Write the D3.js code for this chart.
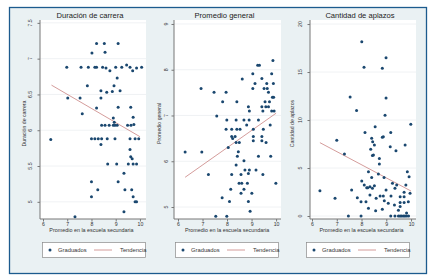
<!DOCTYPE html>
<html>
<head>
<meta charset="utf-8">
<script src="https://cdn.jsdelivr.net/npm/d3@7"></script>
<style>
  body { margin: 0; background: #fff; }
  text { font-family: "Liberation Sans", Arial, sans-serif; }
</style>
</head>
<body>
<script>
// values
var xTicks = [6, 7, 8, 9, 10];
var xTitle = "Promedio en la escuela secundaria";
var legendLabels = ["Graduados", "Tendencia"];

// panel 1: Duración de carrera
var durTitle = "Duración de carrera";
var durTicks = [5, 5.5, 6, 6.5, 7, 7.5];
var durX = [8.21, 8.53, 9.1, 8.02, 8.56,
  6.98, 7.57, 7.87, 8.14, 8.21, 8.46, 8.6, 8.76, 9.0, 9.25, 9.45, 9.59, 9.7, 9.86, 10.07,
  9.06, 7.83, 8.93, 8.39, 8.63, 8.86, 9.18, 7.02, 7.53, 8.39, 8.21, 9.1, 9.62, 7.62,
  8.9, 9.72, 8.94, 8.42, 8.56, 8.73, 8.9, 8.97, 9.06, 9.49, 9.63, 9.75,
  6.32, 8.0, 8.14, 8.28, 8.42, 8.65, 8.97, 9.59, 9.8, 9.95, 8.39, 9.59, 9.62, 9.68,
  8.67, 9.04, 9.52, 9.72, 9.86, 9.34, 8.0, 9.1, 8.26, 9.38, 9.66, 8.0, 9.72, 9.8, 9.86,
  9.34, 7.32];
var durY = [7.21, 7.21, 7.21, 7.08, 7.09,
  6.88, 6.88, 6.88, 6.88, 6.88, 6.88, 6.87, 6.83, 6.88, 6.88, 6.91, 6.88, 6.83, 6.87, 6.88,
  6.73, 6.62, 6.62, 6.55, 6.53, 6.54, 6.55, 6.45, 6.45, 6.45, 6.31, 6.32, 6.32, 6.23,
  6.17, 6.18, 6.11, 6.07, 6.07, 6.07, 6.07, 6.07, 6.07, 6.07, 6.07, 6.08,
  5.87, 5.88, 5.88, 5.88, 5.88, 5.88, 5.88, 5.88, 5.88, 5.88, 5.80, 5.73, 5.63, 5.60,
  5.53, 5.53, 5.53, 5.53, 5.53, 5.40, 5.28, 5.28, 5.17, 5.17, 5.17, 5.07, 5.07, 5.0, 5.0,
  4.86, 4.79];
var durTrendX = [6.35, 10];
var durTrendY = [6.63, 5.91];

// panel 2: Promedio general
var promTitle = "Promedio general";
var promTicks = [5, 6, 7, 8, 9];
var promX = [9.87, 9.25, 9.32, 9.05, 9.82, 8.62, 9.42, 9.14, 9.62, 9.89,
  6.94, 9.05, 9.51, 9.64, 7.47, 7.96, 9.69, 9.85, 9.9, 7.82, 8.4, 9.55, 9.73,
  8.87, 9.42, 9.58, 9.69, 8.91, 9.46, 9.82, 9.92, 7.58, 7.99, 8.37, 8.69, 8.9, 9.28,
  8.8, 9.76, 7.96, 8.19, 8.4, 8.53, 9.07, 9.48, 8.19, 8.33, 9.07, 9.42,
  8.23, 9.07, 9.42, 8.37, 8.5, 9.59, 8.05, 6.29, 6.97, 8.46, 8.42, 9.28, 9.78,
  8.69, 8.37, 8.73, 8.91, 9.18, 7.24, 8.19, 8.57, 8.87, 9.46, 8.49, 8.6, 8.83, 9.99,
  8.15, 8.69, 8.57, 9.01, 7.8, 8.1, 8.87, 8.94, 7.54, 7.99];
var promY = [8.2, 8.1, 8.1, 7.91, 7.91, 7.8, 7.81, 7.7, 7.7, 7.7,
  7.59, 7.59, 7.59, 7.59, 7.51, 7.51, 7.51, 7.4, 7.4, 7.3, 7.3, 7.3, 7.3,
  7.19, 7.19, 7.19, 7.19, 7.1, 7.1, 7.1, 7.1, 6.99, 6.9, 6.9, 6.9, 6.9, 6.9,
  6.79, 6.79, 6.7, 6.7, 6.7, 6.7, 6.7, 6.7, 6.54, 6.54, 6.54, 6.54,
  6.5, 6.45, 6.45, 6.41, 6.41, 6.41, 6.3, 6.2, 6.2, 6.21, 6.11, 6.11, 6.11,
  6.01, 5.92, 5.81, 5.81, 5.81, 5.71, 5.71, 5.71, 5.73, 5.71, 5.52, 5.52, 5.52, 5.52,
  5.39, 5.39, 5.3, 5.3, 5.2, 5.12, 5.12, 4.91, 4.8, 4.8];
var promTrendX = [6.29, 10];
var promTrendY = [5.65, 7.05];

// panel 3: Cantidad de aplazos
var aplTitle = "Cantidad de aplazos";
var aplTicks = [0, 5, 10, 15, 20];
var aplX = [8.01, 8.99, 8.1, 8.84, 7.54, 8.99, 7.8, 8.95, 9.99, 8.55, 8.14, 9.18,
  8.88, 8.84, 8.41, 7.0, 8.45, 8.52, 9.16, 9.76, 8.37, 9.39, 7.31, 8.48, 8.44,
  8.72, 8.72, 8.28, 8.68, 9.85, 9.92, 8.41, 8.91, 9.25, 9.42, 9.79, 8.01, 8.11,
  8.34, 8.21, 8.25, 8.44, 8.52, 6.32, 7.6, 8.99, 9.35, 9.72, 9.96, 8.34, 8.75, 8.88,
  9.19, 9.56, 9.72, 6.93, 7.83, 8.59, 7.98, 8.18, 8.92, 9.08, 9.33, 9.56, 9.72, 9.89,
  8.28, 8.57, 8.84, 9.49, 9.56, 7.47, 7.98, 9.18, 9.35, 9.49, 9.56, 9.62, 9.69, 9.75,
  9.82, 9.9, 9.82];
var aplY = [18.16, 16.5, 15.5, 15.4, 12.4, 12.3, 11.0, 10.5, 9.55, 9.3, 8.7, 8.7,
  8.26, 8.2, 8.1, 7.9, 7.74, 7.4, 7.22, 7.4, 6.95, 6.8, 6.46, 6.35, 6.3,
  6.0, 5.42, 4.6, 4.38, 4.6, 4.1, 4.0, 4.0, 3.4, 3.23, 3.23, 3.65, 3.23,
  3.05, 2.95, 2.95, 2.88, 3.16, 2.64, 2.71, 2.71, 2.88, 2.47, 2.36, 2.19, 2.08, 2.08,
  2.08, 2.01, 2.01, 1.84, 1.91, 1.84, 1.49, 1.49, 1.6, 1.32, 1.15, 1.4, 1.4, 1.49,
  0.8, 0.55, 0.7, 0.6, 1.0, 0, 0, 0, 0, 0, 0, 0, 0, 0,
  0, 0, 0.3];
var aplTrendX = [6.32, 10];
var aplTrendY = [7.64, 2.6];

var W = 435, H = 279;
var plotTop = 20, plotBottom = 219;
var dotColor = "#1a476f", trendColor = "#c98382", axisColor = "#777";

var svg = d3.select("body").append("svg")
    .attr("width", W)
    .attr("height", H);

// outer frame
svg.append("rect")
    .attr("x", 9.5).attr("y", 7.5)
    .attr("width", 417).attr("height", 266)
    .attr("fill", "#eaf1f3")
    .attr("stroke", "#1c5b8e")
    .attr("stroke-width", 1.3);

var panels = [
  { title: durTitle, xs: durX, ys: durY, ticks: durTicks, tx: durTrendX, ty: durTrendY,
    left: 40, right: 146, xDom: [5.876, 10.25], yDom: [4.76, 7.54], labX: 30, titX: 26, legL: 42 },
  { title: promTitle, xs: promX, ys: promY, ticks: promTicks, tx: promTrendX, ty: promTrendY,
    left: 174, right: 281, xDom: [5.837, 10.2], yDom: [4.738, 9.087], labX: 166, titX: 161, legL: 175 },
  { title: aplTitle, xs: aplX, ys: aplY, ticks: aplTicks, tx: aplTrendX, ty: aplTrendY,
    left: 310, right: 416, xDom: [5.919, 10.2], yDom: [-0.3125, 20.42], labX: 300, titX: 294, legL: 306 }
];

var fmt = d3.format("");

panels.forEach(function (p) {
  var x = d3.scaleLinear().domain(p.xDom).range([p.left, p.right]);
  var y = d3.scaleLinear().domain(p.yDom).range([plotBottom, plotTop]);
  var g = svg.append("g");

  // white plot region
  g.append("rect")
      .attr("x", p.left).attr("y", plotTop)
      .attr("width", p.right - p.left).attr("height", plotBottom - plotTop)
      .attr("fill", "#fff");

  // grid lines
  g.selectAll(".grid").data(p.ticks).enter().append("line")
      .attr("x1", p.left).attr("x2", p.right)
      .attr("y1", function (d) { return y(d); })
      .attr("y2", function (d) { return y(d); })
      .attr("stroke", "#eceff1")
      .attr("stroke-width", 0.8);

  // y axis
  var ya = g.append("g")
      .attr("transform", "translate(" + p.left + ",0)")
      .call(d3.axisLeft(y).tickValues(p.ticks).tickSize(2.5));
  ya.select(".domain").attr("stroke", axisColor).attr("d", "M0," + plotTop + "V" + plotBottom);
  ya.selectAll(".tick line").attr("stroke", axisColor);
  ya.selectAll(".tick text").remove();
  g.selectAll(".ylab").data(p.ticks).enter().append("text")
      .attr("transform", function (d) { return "translate(" + (p.labX + 2) + "," + y(d) + ") rotate(-90)"; })
      .attr("text-anchor", "middle")
      .attr("font-size", 5.2)
      .attr("fill", "#333")
      .text(fmt);

  // x axis
  var xa = g.append("g")
      .attr("transform", "translate(0," + plotBottom + ")")
      .call(d3.axisBottom(x).tickValues(xTicks).tickSize(2.5).tickPadding(1).tickFormat(fmt));
  xa.select(".domain").attr("stroke", axisColor).attr("d", "M" + p.left + ",0H" + p.right);
  xa.selectAll(".tick line").attr("stroke", axisColor);
  xa.selectAll(".tick text").attr("font-size", 5.2).attr("fill", "#333")
      .style("font-family", "'Liberation Sans', Arial, sans-serif");

  // titles
  g.append("text")
      .attr("x", (p.left + p.right) / 2 - 3).attr("y", 17.5)
      .attr("text-anchor", "middle")
      .attr("font-size", 7.6)
      .attr("fill", "#222")
      .text(p.title);
  g.append("text")
      .attr("x", x(8)).attr("y", 232)
      .attr("text-anchor", "middle")
      .attr("font-size", 5.4)
      .attr("fill", "#333")
      .text(xTitle);
  g.append("text")
      .attr("transform", "translate(" + p.titX + "," + ((plotTop + plotBottom) / 2 + 4) + ") rotate(-90)")
      .attr("text-anchor", "middle")
      .attr("font-size", 5.2)
      .attr("fill", "#333")
      .text(p.title);

  // trend line
  var trend = p.tx.map(function (v, i) { return [v, p.ty[i]]; });
  g.append("path")
      .datum(trend)
      .attr("fill", "none")
      .attr("stroke", trendColor)
      .attr("stroke-width", 0.8)
      .attr("d", d3.line().x(function (d) { return x(d[0]); }).y(function (d) { return y(d[1]); }));

  // points
  g.selectAll(".pt").data(p.xs).enter().append("circle")
      .attr("cx", function (d) { return x(d); })
      .attr("cy", function (d, i) { return y(p.ys[i]); })
      .attr("r", 1.5)
      .attr("fill", dotColor);

  // legend
  var lg = g.append("g").attr("transform", "translate(" + p.legL + ",242)");
  lg.append("rect")
      .attr("x", 0.5).attr("y", 0.5)
      .attr("width", 103).attr("height", 15)
      .attr("fill", "#fff")
      .attr("stroke", "#8a8a8a")
      .attr("stroke-width", 0.7);
  lg.append("circle").attr("cx", 8).attr("cy", 8).attr("r", 1.5).attr("fill", dotColor);
  lg.append("text").attr("x", 16).attr("y", 10).attr("font-size", 5.8).attr("fill", "#333")
      .text(legendLabels[0]);
  lg.append("line").attr("x1", 52).attr("x2", 70).attr("y1", 8).attr("y2", 8)
      .attr("stroke", trendColor).attr("stroke-width", 0.8);
  lg.append("text").attr("x", 78).attr("y", 10).attr("font-size", 5.8).attr("fill", "#333")
      .text(legendLabels[1]);
});
</script>
</body>
</html>
